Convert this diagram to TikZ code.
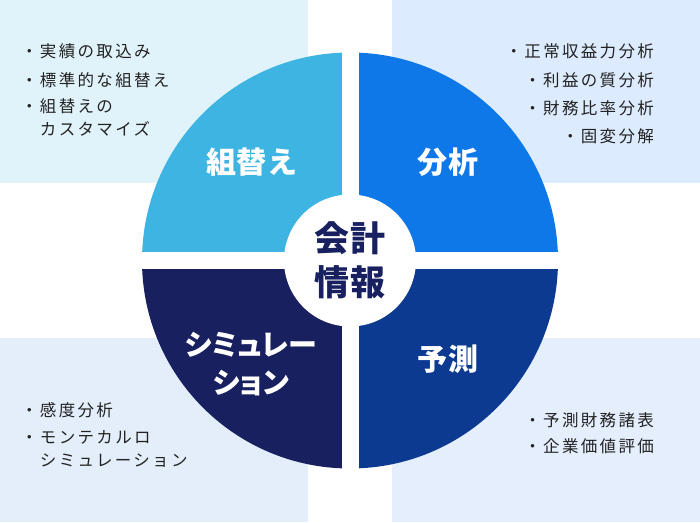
\documentclass[tikz,border=0pt]{standalone}
\usepackage{fontspec}
\newfontfamily\jpfont[LetterSpace=14]{Noto Sans CJK JP}
\newfontfamily\jplabel[LetterSpace=2]{Noto Sans CJK JP}
\newfontfamily\jpkana[RawFeature={+palt}]{Noto Sans CJK JP}
\usetikzlibrary{positioning}
\definecolor{bgKumi}{HTML}{E1F3FA}
\definecolor{bgBunseki}{HTML}{DCEBFD}
\definecolor{bgSim}{HTML}{E3EEFA}
\definecolor{bgYosoku}{HTML}{E4EEFD}
\definecolor{qKumi}{HTML}{3DB4E1}
\definecolor{qBunseki}{HTML}{0E78E8}
\definecolor{qSim}{HTML}{182060}
\definecolor{qYosoku}{HTML}{0B3A90}
\definecolor{ink}{HTML}{222222}

\begin{document}
\begin{tikzpicture}[x=1pt, y=1pt,
  lab/.style={font=\jplabel\bfseries\fontsize{30}{38}\selectfont, text=white, align=center, inner sep=0pt},
  hub/.style={circle, fill=white, minimum size=132pt, inner sep=0pt, align=center,
    font=\jplabel\bfseries\fontsize{35}{44}\selectfont, text=qSim},
  itemL/.style={anchor=north west, align=left, inner sep=0pt, text=ink, font=\jpfont\fontsize{16.5}{23}\selectfont},
  itemR/.style={anchor=north east, align=right, inner sep=0pt, text=ink, font=\jpfont\fontsize{16.5}{23}\selectfont}]
  \useasboundingbox (0,0) rectangle (700,522);
  % background panels
  \foreach \col/\xa/\ya/\xb/\yb in {bgKumi/0/339/308/522, bgBunseki/392/339/700/522,
      bgSim/0/0/308/184, bgYosoku/392/0/700/184}
    \fill[\col] (\xa,\ya) rectangle (\xb,\yb);
  % four quarters of the disc
  \coordinate (c) at (350,261.5);
  \begin{scope}
    \clip (c) circle[radius=208];
    \foreach \col/\sx/\sy in {qKumi/-1/1, qBunseki/1/1, qSim/-1/-1, qYosoku/1/-1}
      \fill[\col] (c) ++(\sx*8.5,\sy*8.5) rectangle ++(\sx*205,\sy*205);
  \end{scope}
  \node[hub] (hub) at (c) {会計\\情報};
  \node[lab] (kumi) at (252,360) {組替え};
  \node[lab] (bunseki) at (448,360) {分析};
  \node[lab, font=\jpkana\bfseries\fontsize{29}{38}\selectfont] (sim) at (251,158) {シミュレー\\ション};
  \node[lab] (yosoku) at (448,163) {予測};
  % bullet lists
  \node[itemL] (k1) at (21,479) {・実績の取込み};
  \node[itemL] (k2) at (21,450) {・標準的な組替え};
  \node[itemL] (k3) at (21,424) {・組替えの\\　カスタマイズ};
  \node[itemR] (b1) at (654,479) {・正常収益力分析};
  \node[itemR] (b2) at (654,450) {・利益の質分析};
  \node[itemR] (b3) at (654,422) {・財務比率分析};
  \node[itemR] (b4) at (654,394) {・固変分解};
  \node[itemL] (s1) at (21,120) {・感度分析};
  \node[itemL] (s2) at (21,92) {・モンテカルロ\\　シミュレーション};
  \node[itemR] (y1) at (654,110) {・予測財務諸表};
  \node[itemR] (y2) at (654,84) {・企業価値評価};
\end{tikzpicture}
\end{document}
